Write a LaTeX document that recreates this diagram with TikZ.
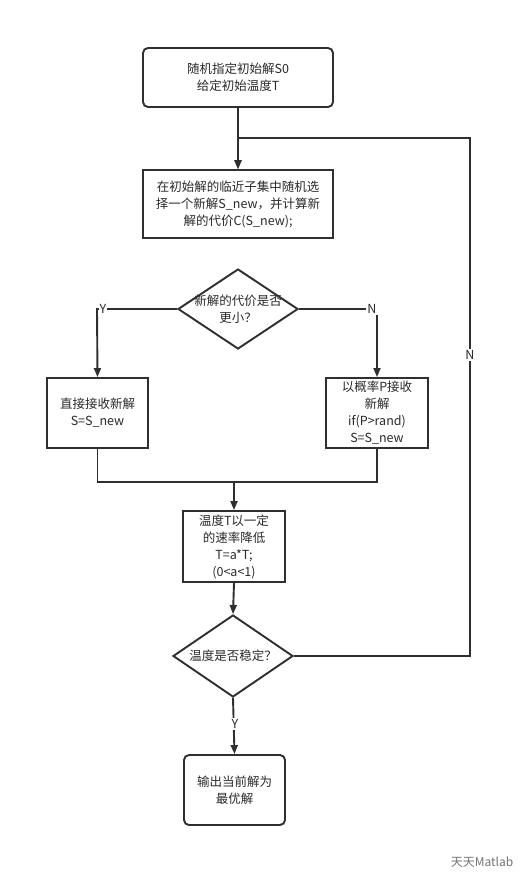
\documentclass[tikz,border=0pt]{standalone}
\usepackage{fontspec}
\setmainfont{Noto Sans CJK SC}
\usetikzlibrary{shapes.geometric,arrows.meta}
\definecolor{ln}{HTML}{2F2F2F}
\definecolor{tx}{HTML}{2A2A2A}
\tikzset{
  x=1pt,y=-1pt,
  every node/.style={font=\fontsize{12.5}{17}\selectfont,text=tx,align=center},
  procbox/.style={draw=ln,line width=1.9pt,rectangle,inner sep=0pt},
  roundbox/.style={procbox,rounded corners=5pt},
  decision/.style={draw=ln,line width=1.9pt,diamond,inner sep=0pt},
  conn/.style={draw=ln,line width=1.9pt},
  arr/.style={conn,-{Triangle[length=9pt,width=7pt]}},
  lab/.style={fill=white,inner sep=1pt}
}
\begin{document}
\begin{tikzpicture}
\useasboundingbox[fill=white] (0,0) rectangle (532,887);
\node[roundbox,minimum width=190pt,minimum height=59pt] (b1) at (238,77.5) {随机指定初始解S0\\给定初始温度T};
\node[procbox,minimum width=190pt,minimum height=68pt] (b2) at (238,204) {在初始解的临近子集中随机选\\择一个新解S\_new，并计算新\\解的代价C(S\_new);};
\node[decision,minimum width=120pt,minimum height=80pt,label={[align=center]center:新解的代价是否\\更小？}] (d1) at (238,309) {};
\node[procbox,minimum width=101pt,minimum height=70pt] (bl) at (97.5,413) {直接接收新解\\S=S\_new};
\node[procbox,minimum width=102pt,minimum height=70pt] (br) at (377,413) {以概率P接收\\新解\\if(P>rand)\\S=S\_new};
\node[procbox,minimum width=102pt,minimum height=71pt] (b3) at (234,546.5) {温度T以一定\\的速率降低\\T=a*T;\\(0<a<1)};
\node[decision,minimum width=120pt,minimum height=82pt,label={[align=center]center:温度是否稳定？}] (d2) at (233,656) {};
\node[roundbox,minimum width=101pt,minimum height=70pt] (b4) at (234.5,790) {输出当前解为\\最优解};

\coordinate (cy) at (97,309);
\coordinate (cn) at (377,309);
\coordinate (m) at (234,482);
\coordinate (r1) at (470,656);
\coordinate (r2) at (470,138);
\coordinate (r3) at (238,138);

\draw[arr] (b1.south) -- (b2.north);
\draw[arr] (d1.west) -- (cy) -- (bl.north);
\draw[arr] (d1.east) -- (cn) -- (br.north);
\node[lab] (ly) at (103,309) {Y};
\node[lab] (ln1) at (372,309) {N};
\draw[conn] (bl.south) |- (m);
\draw[conn] (br.south) |- (m);
\draw[arr] (m) -- (b3.north);
\draw[arr] (b3.south) -- (d2.north);
\draw[arr] (d2.south) -- (b4.north);
\node[lab] (ly2) at (235,724) {Y};
\draw[arr] (d2.east) -- (r1) -- (r2) -- (r3) -- (b2.north);
\node[lab] (ln2) at (470,355) {N};
\node[text=black!55,font=\fontsize{12}{14}\selectfont] (wm) at (482,862) {天天Matlab};
\end{tikzpicture}
\end{document}
